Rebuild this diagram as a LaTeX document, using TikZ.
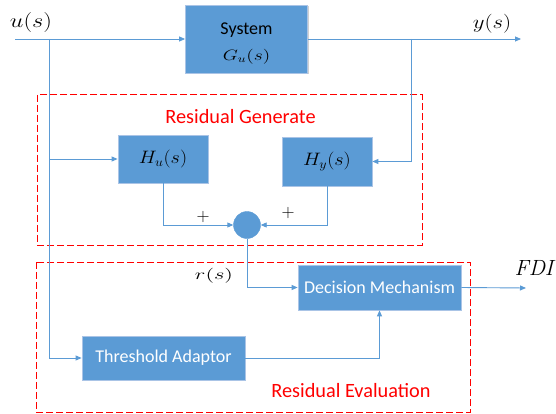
\RequirePackage{fix-cm}
\documentclass[tikz,border=0pt]{standalone}
\usepackage{fontspec}
\newfontfamily\carl{Carlito}
\usetikzlibrary{arrows.meta}
\definecolor{myblue}{RGB}{91,155,213}
\definecolor{myedge}{RGB}{170,196,230}
\definecolor{myline}{RGB}{91,155,213}
\definecolor{myred}{RGB}{255,0,0}
\begin{document}
\begin{tikzpicture}[x=1pt,y=-1pt,
  blk/.style={draw=myedge,fill=myblue,line width=0.8pt,inner sep=0pt,
    preaction={fill=black!18,transform canvas={xshift=1.2pt,yshift=-1.2pt}}},
  wire/.style={draw=myline,line width=0.9pt},
  arr/.style={wire,-{Triangle[length=6pt,width=5pt]}},
  redbox/.style={draw=myred,line width=1pt,dash pattern=on 7pt off 3pt},
  lbl/.style={inner sep=0pt},
  wtxt/.style={text=white,font=\carl\fontsize{18}{20}\selectfont},
  rtxt/.style={text=myred,font=\carl\fontsize{20.3}{22}\selectfont}]
\useasboundingbox[fill=white] (0,0) rectangle (556,414);
% blocks
\node[blk,minimum width=122pt,minimum height=68pt] (sys) at (246.5,39) {};
\node[lbl,font=\carl\fontsize{18}{20}\selectfont] (systxt) at (246.5,30) {System};
\node[lbl,font=\fontsize{15}{18}\selectfont] (gtxt) at (246.5,57) {\scalebox{1.3}[1]{$G_u(s)$}};
\node[blk,minimum width=90pt,minimum height=48pt,font=\fontsize{18}{20}\selectfont] (hu) at (163,159) {\scalebox{1.12}[1]{$H_u(s)$}};
\node[blk,minimum width=90pt,minimum height=49pt,font=\fontsize{18}{20}\selectfont] (hy) at (327,161.5) {\scalebox{1.12}[1]{$H_y(s)$}};
\node[circle,fill=myblue,draw=myblue,minimum size=27pt,inner sep=0pt] (sum) at (247,225) {};
\node[blk,minimum width=163pt,minimum height=45pt,wtxt] (dm) at (379.5,287.5) {Decision Mechanism};
\node[blk,minimum width=163pt,minimum height=44pt,wtxt] (th) at (163.5,358) {Threshold Adaptor};
% labels
\node[lbl,font=\fontsize{20}{24}\selectfont] (ul) at (31,23) {\scalebox{1.22}[1]{$u(s)$}};
\node[lbl,font=\fontsize{19}{24}\selectfont] (yl) at (492,24) {\scalebox{1.2}[1]{$y(s)$}};
\node[lbl,font=\fontsize{15}{18}\selectfont] (rl) at (214,276) {\scalebox{1.5}[1]{$r(s)$}};
\node[lbl,font=\fontsize{22}{24}\selectfont] (fl) at (534,268) {$\mathit{FDI}$};
\node[lbl,font=\fontsize{18}{20}\selectfont] (p1) at (203,217) {$+$};
\node[lbl,font=\fontsize{18}{20}\selectfont] (p2) at (288,213) {$+$};
\node[rtxt] (rg) at (240.5,117) {Residual Generate};
\node[rtxt] (re) at (351,391) {Residual Evaluation};
% red dashed regions
\draw[redbox] (37,95) rectangle (422,245);
\draw[redbox] (36,262) rectangle (470,412);
% coordinates
\coordinate (uin) at (15,39);
\coordinate (ubr) at (49,39);
\coordinate (ybr) at (411,39);
\coordinate (yout) at (521,39);
\coordinate (fout) at (526,288);
% connectors
\draw[arr] (uin) -- (sys.west);
\draw[arr] (sys.east) -- (yout);
\draw[arr] (ybr) |- (hy.east);
\draw[arr] (ubr) |- (th.west);
\draw[arr] (ubr |- hu.west) -- (hu.west);
\draw[arr] (hu.south) |- (sum.west);
\draw[arr] (hy.south) |- (sum.east);
\draw[arr] (sum.south) |- (dm.west);
\draw[arr] (th.east) -| (dm.south);
\draw[arr] (dm.east) -- (fout);
\end{tikzpicture}
\end{document}
